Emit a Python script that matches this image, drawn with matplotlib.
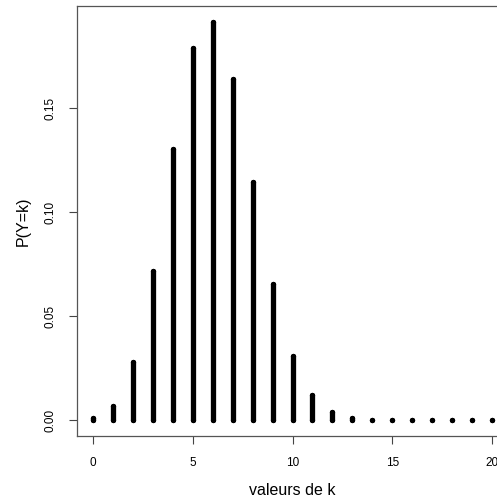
import matplotlib
matplotlib.use("Agg")
import matplotlib.pyplot as plt

plt.rcParams['font.family'] = ['Liberation Sans', 'DejaVu Sans']

# valeurs
k_values = list(range(0, 21))
probs = [0.0008, 0.0068, 0.0278, 0.0716, 0.1304, 0.1789, 0.1916, 0.1643,
         0.1144, 0.0654, 0.0308, 0.0120, 0.0039, 0.0010, 0.0002, 0.0000,
         0.0000, 0.0000, 0.0000, 0.0000, 0.0000]
x_ticks = [0, 5, 10, 15, 20]
y_ticks = [0.00, 0.05, 0.10, 0.15]

fig = plt.figure(figsize=(4.97, 5.0), dpi=100)
ax = fig.add_axes([77 / 497, 0.128, (508 - 77) / 497, 0.86])

lw = 3.8
ax.vlines(k_values, 0, probs, colors='black', linewidth=lw, capstyle='round')
# bouts arrondis (comme type="h" de R), visibles aussi pour les valeurs nulles
ax.plot(k_values, probs, linestyle='none', marker='o', markersize=lw,
        markeredgewidth=0, color='black')
ax.plot(k_values, [0] * len(k_values), linestyle='none', marker='o',
        markersize=lw, markeredgewidth=0, color='black')

ax.set_xlim(-0.8, 20.8)
ax.set_ylim(-0.0077, 0.1993)
ax.set_xticks(x_ticks)
ax.set_xticklabels([str(t) for t in x_ticks], fontsize=8.5)
ax.set_yticks(y_ticks)
ax.set_yticklabels(["%.2f" % t for t in y_ticks], fontsize=8.5, rotation=90,
                   va='center')
ax.tick_params(axis='both', direction='out', length=6, width=0.8,
               color='#444444', pad=9)
for s in ax.spines.values():
    s.set_color('#555555')
    s.set_linewidth(0.9)

ax.set_xlabel("valeurs de k", fontsize=11.5, labelpad=10)
ax.set_ylabel("P(Y=k)", fontsize=11.5, labelpad=10)

fig.savefig("out.png", dpi=100)
